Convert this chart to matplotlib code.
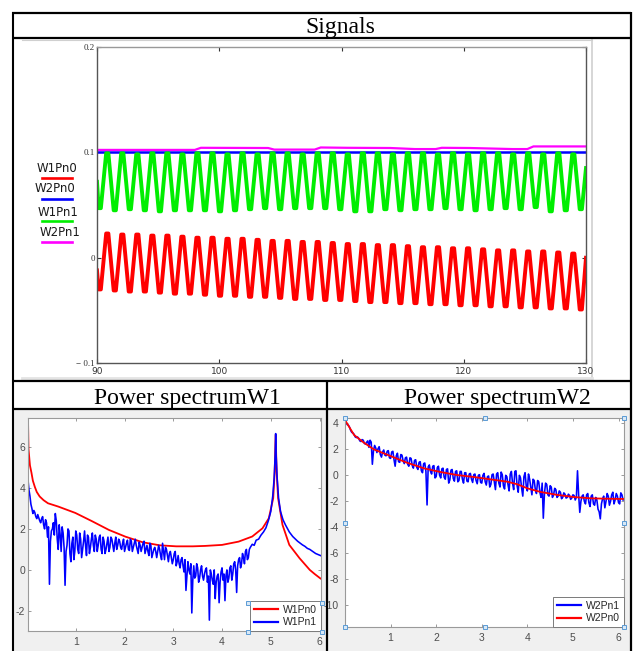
import numpy as np
import matplotlib
matplotlib.use("Agg")
import matplotlib.pyplot as plt
from matplotlib.patches import Rectangle

plt.rcParams['axes.unicode_minus'] = False

W, H = 636, 651

# ---------------- Signals (top) ----------------
sig_t0 = 90.225      # first trough time
sig_half = 0.61485   # half period read from the peaks
sig_flat = 0.09      # half width of the rounded tops seen in the picture
red_peaks = [0.023, 0.022, 0.022, 0.021, 0.021, 0.020, 0.019, 0.019, 0.018, 0.018,
             0.017, 0.016, 0.016, 0.015, 0.015, 0.014, 0.013, 0.013, 0.012, 0.012,
             0.011, 0.010, 0.010, 0.009, 0.009, 0.008, 0.007, 0.007, 0.006, 0.006,
             0.005, 0.004]
red_troughs = [-0.030, -0.031, -0.032, -0.032, -0.033, -0.034, -0.034, -0.035, -0.036,
               -0.036, -0.037, -0.037, -0.038, -0.039, -0.039, -0.040, -0.040, -0.041,
               -0.042, -0.042, -0.043, -0.043, -0.044, -0.044, -0.045, -0.045, -0.046,
               -0.046, -0.047, -0.047, -0.048, -0.048, -0.049]
green_peaks = [0.099, 0.099, 0.098, 0.099, 0.099, 0.098, 0.099, 0.099, 0.098, 0.099,
               0.098, 0.099, 0.099, 0.098, 0.099, 0.099, 0.098, 0.099, 0.099, 0.098,
               0.099, 0.099, 0.098, 0.099, 0.098, 0.099, 0.099, 0.098, 0.099, 0.098,
               0.099, 0.098]
green_troughs = [0.047, 0.045, 0.046, 0.045, 0.044, 0.045, 0.045, 0.045, 0.044, 0.045,
                 0.046, 0.047, 0.046, 0.047, 0.047, 0.047, 0.046, 0.044, 0.044, 0.046,
                 0.045, 0.046, 0.046, 0.047, 0.046, 0.045, 0.046, 0.047, 0.046, 0.048,
                 0.044, 0.045, 0.046]
red_ends = [-0.012, 0.0]
green_ends = [0.072, 0.085]
blue_t = [90, 130]
blue_v = [0.1, 0.1]
mag_t = [90, 98.0, 98.5, 104.0, 104.5, 107.8, 108.3, 110.5, 114, 116, 117.7, 118.2,
         120.5, 124, 125.2, 125.7, 130]
mag_v = [0.1022, 0.1022, 0.1042, 0.1040, 0.1025, 0.1025, 0.1045, 0.1042, 0.1040, 0.1030,
         0.1030, 0.1042, 0.1040, 0.1030, 0.1030, 0.1055, 0.1055]
sig_names = ['W1Pn0', 'W2Pn0', 'W1Pn1', 'W2Pn1']
sig_colors = ['#ff0000', '#0000ff', '#00ee00', '#ff00ff']

# ---------------- Power spectrum W1 ----------------
w1_red_f = [0.02, 0.03, 0.06, 0.09, 0.12, 0.16, 0.2, 0.26, 0.34, 0.43, 0.64, 0.99, 1.33,
            1.68, 2.02, 2.37, 2.72, 3.06, 3.4, 3.65, 4.0, 4.34, 4.62, 4.83, 4.96, 5.05,
            5.08, 5.1, 5.12, 5.15, 5.24, 5.38, 5.59, 5.8, 5.9, 6.02]
w1_red_v = [7.4, 5.9, 5.1, 4.75, 4.35, 4.05, 3.8, 3.58, 3.4, 3.25, 3.09, 2.78, 2.38,
            1.95, 1.62, 1.35, 1.2, 1.15, 1.15, 1.17, 1.22, 1.38, 1.63, 2.03, 2.52, 3.5,
            4.8, 6.6, 4.8, 3.5, 2.2, 1.22, 0.57, 0.0, -0.2, -0.42]
# noisy part, every 0.04 from 0.02 to 4.58
w1_blue_noisy = [4.4, 3.6, 3.0, 2.9, 2.6, 2.7, 2.4, 2.5, 2.2, 2.45, 1.6, -0.7, 1.9, 2.3,
                 2.75, 1.5, 2.2, 0.9, 1.8, -0.75, 1.2, 1.9, 0.4, 1.6, 0.9, 1.7, 0.8, 1.5,
                 1.0, 1.9, 0.7, 1.6, 1.1, 1.8, 0.9, 1.5, 1.2, 1.7, 0.8, 1.4, 1.0, 1.6, 1.1,
                 1.5, 0.9, 1.6, 1.2, 1.4, 1.0, 1.5, 1.1, 1.45, 0.95, 1.4, 1.1, 1.5, 1.0,
                 1.35, 0.9, 1.3, 0.8, 1.2, 0.7, 1.2, 0.8, 1.1, 0.6, 1.2, 0.7, 1.3, 0.5,
                 1.0, 0.4, 0.9, 0.3, 0.8, 0.2, 0.7, 0.1, 0.6, -0.1, -1.0, 0.4, -0.2, -2.1,
                 0.2, -0.3, 0.1, -0.4, 0.2, -0.5, 0.0, -0.6, -2.45, -0.2, -0.7, -1.4, -0.3,
                 -1.6, -0.1, -0.5, -1.5, 0.0, -0.4, 0.2, -0.2, 0.4, -1.1, 0.5, 0.1, 0.8,
                 0.3, 1.0, 0.6, 1.1]
# values between the ones above (0.04 .. 4.56)
w1_blue_mid = [3.9, 3.2, 2.75, 2.8, 2.5, 2.55, 2.3, 2.6, 2.0, 2.3, 2.1, 1.4, 2.0, 1.7,
               2.4, 1.0, 1.7, 2.1, 1.1, 0.9, 2.0, 0.8, 1.3, 0.5, 1.9, 1.0, 1.8, 0.6, 1.4,
               1.2, 1.7, 0.8, 1.5, 1.2, 1.7, 0.9, 1.6, 1.0, 1.6, 0.8, 1.3, 0.9, 1.6, 1.2,
               1.3, 1.0, 1.5, 1.1, 1.3, 0.9, 1.3, 1.0, 1.5, 0.9, 1.3, 1.2, 0.8, 1.2, 1.1,
               1.4, 1.0, 0.9, 1.3, 0.6, 1.0, 0.9, 0.9, 1.0, 0.5, 0.9, 1.1, 0.7, 0.8, 0.6,
               0.5, 0.9, 0.4, 0.3, 0.5, 0.2, 0.5, -0.3, 0.0, 0.3, -0.5, -0.4, 0.3, -0.6,
               0.0, -0.3, -0.2, 0.1, -0.3, 0.0, -0.5, 0.0, -0.6, -0.2, -0.6, 0.1, -0.2,
               -0.3, -0.6, 0.1, -0.5, 0.3, 0.0, 0.2, 0.6, 0.3, 0.6, 0.9, 0.5, 1.0]
w1_blue_tail_f = [4.62, 4.66, 4.7, 4.75, 4.8, 4.85, 4.9, 4.95, 5.0, 5.04, 5.07, 5.09, 5.1,
                  5.11, 5.13, 5.16, 5.2, 5.25, 5.3, 5.38, 5.45, 5.55, 5.65, 5.7, 5.75,
                  5.8, 5.86, 5.92, 5.97, 6.02]
w1_blue_tail_v = [1.25, 1.2, 1.45, 1.5, 1.7, 1.85, 2.05, 2.4, 2.85, 3.6, 4.5, 5.6, 6.65,
                  5.6, 4.5, 3.5, 2.85, 2.45, 2.2, 1.85, 1.63, 1.4, 1.22, 1.15, 1.05, 1.0,
                  0.9, 0.8, 0.75, 0.7]

# ---------------- Power spectrum W2 ----------------
w2_red_f = [0.0, 0.2, 0.4, 0.63, 1.0, 1.36, 1.73, 2.1, 2.46, 2.83, 3.19, 3.56, 3.78, 4.0,
            4.29, 4.66, 5.02, 5.39, 5.75, 6.1]
w2_red_v = [4.25, 3.1, 2.55, 2.0, 1.48, 0.97, 0.54, 0.25, 0.02, -0.13, -0.31, -0.49,
            -0.69, -1.0, -1.28, -1.51, -1.67, -1.77, -1.80, -1.82]
# every 0.05 from 0 to 6.1
w2_blue = [4.30, 3.90, 3.70, 3.30, 3.15, 2.90, 2.85, 2.60, 2.70, 2.40, 2.65, 2.70, 0.85,
           2.30, 1.75, 2.20, 1.40, 1.95, 1.50, 1.90, 1.30, 1.85, 0.70, 1.70, 1.00, 1.55,
           0.90, 1.40, 0.70, 1.30, 0.55, 1.20, 0.45, 1.05, 0.20, 0.95, -2.28, 0.80, 0.10,
           0.75, -0.10, 0.70, -0.20, 0.55, -0.30, 0.50, -0.35, 0.45, -0.45, 0.35, -0.40,
           0.30, -0.60, 0.20, -0.50, 0.15, -0.55, 0.10, -0.65, 0.05, -0.60, 0.15, -0.75,
           -0.05, -0.70, 0.10, -1.10, 0.20, -0.90, 0.05, -1.05, -0.10, -1.20, 0.30, -1.10,
           0.35, -1.30, -0.20, -1.60, 0.20, -1.20, -0.30, -1.50, -0.40, -1.40, -0.50,
           -1.70, -3.30, -0.60, -1.50, -0.80, -1.70, -1.00, -1.70, -1.20, -1.80, -1.35,
           -1.75, -1.45, -1.85, -1.50, -1.90, 0.35, -2.85, -1.60, -2.00, -1.50, -2.10,
           -1.60, -2.20, -1.70, -2.60, -3.35, -1.80, -2.50, -1.40, -2.30, -1.50, -2.20,
           -1.40, -2.10, -1.35, -1.90]
# values between the ones above (0.025 .. 6.075)
w2_blue_mid = [4.05, 3.85, 3.45, 3.25, 2.95, 2.95, 2.65, 2.75, 2.45, 2.55, 2.15, 2.55,
               1.90, 2.10, 2.05, 1.60, 1.80, 1.55, 1.85, 1.35, 1.80, 1.20, 1.50, 1.05,
               1.60, 1.10, 1.35, 0.85, 1.35, 0.75, 1.15, 0.60, 1.00, 0.35, 0.90, 0.30,
               0.65, 0.30, 0.70, -0.20, 0.60, 0.00, 0.50, -0.15, 0.45, -0.60, 0.40, -0.25,
               0.30, -0.50, 0.30, -0.30, 0.20, -0.45, 0.10, -0.30, 0.05, -0.40, 0.00,
               -0.55, 0.00, -0.50, -0.10, -0.90, 0.05, -0.50, 0.10, -0.60, 0.25, -0.80,
               0.00, -0.70, 0.10, -0.60, 0.30, -0.80, 0.00, -1.00, -0.10, -0.80, 0.10,
               -0.90, -0.30, -1.10, -0.40, -1.30, -0.60, -1.40, -0.70, -1.60, -0.90,
               -1.50, -1.10, -1.60, -1.30, -1.70, -1.45, -1.70, -1.55, -1.75, -1.55,
               -1.70, -1.50, -2.00, -1.50, -2.20, -1.40, -2.40, -1.50, -2.30, -1.90,
               -2.80, -2.20, -1.60, -2.00, -1.60, -2.00, -1.30, -1.90, -1.60, -2.20, -1.50]


def interleave(a, b):
    # a[0], b[0], a[1], b[1], ..., a[-1]  (len(a) == len(b) + 1)
    out = []
    for i, v in enumerate(a):
        out.append(v)
        if i < len(b):
            out.append(b[i])
    return out


def rect(l, t, r, b):
    return [l / W, 1 - b / H, (r - l) / W, (b - t) / H]


fig = plt.figure(figsize=(W / 100, H / 100), dpi=100)
fig.patch.set_facecolor('white')

# background cells
bg = fig.add_axes([0, 0, 1, 1], zorder=-5)
bg.set_xlim(0, W)
bg.set_ylim(H, 0)
bg.axis('off')
bg.add_patch(Rectangle((14, 409), 312, 242, color='#f0f0f0', lw=0))
bg.add_patch(Rectangle((327, 409), 303, 242, color='#f0f0f0', lw=0))
bg.plot([22, 592], [40, 40], color='#d0d0d0', lw=0.8)
bg.plot([592, 592], [40, 378], color='#d0d0d0', lw=1.2)
bg.plot([22, 592], [377.5, 377.5], color='#e4e4e4', lw=2)

# ---- signals plot ----
ax = fig.add_axes(rect(97, 46.7, 586, 363.3))
n_ext = len(red_troughs) + len(red_peaks)
t_ext = sig_t0 + sig_half * np.arange(n_ext)
t = np.concatenate([[90.0], (t_ext[:, None] + [-sig_flat, sig_flat]).ravel(), [130.0]])
red = [red_ends[0]] + list(np.repeat(interleave(red_troughs, red_peaks), 2)) + [red_ends[1]]
green = ([green_ends[0]] + list(np.repeat(interleave(green_troughs, green_peaks), 2))
         + [green_ends[1]])
ax.plot(t, red, color=sig_colors[0], lw=2.8, solid_joinstyle='round')
ax.plot(blue_t, blue_v, color=sig_colors[1], lw=1.8)
ax.plot(t, green, color=sig_colors[2], lw=2.8, solid_joinstyle='round')
ax.plot(mag_t, mag_v, color=sig_colors[3], lw=1.6)
ax.set_xlim(90, 130)
ax.set_ylim(-0.1, 0.2)
ax.set_xticks([90, 100, 110, 120, 130])
ax.set_yticks([-0.1, 0, 0.1, 0.2])
ax.set_yticklabels(['\u2212 0.1', '0', '0.1', '0.2'], family='Liberation Serif',
                   fontsize=6.5, color='#333333')
ax.set_xticklabels(['90', '100', '110', '120', '130'], family='DejaVu Sans',
                   fontsize=6.5, color='#333333')
ax.tick_params(direction='in', length=3, top=True, right=True, width=0.8, color='#333333')
ax.tick_params(axis='y', pad=1.5)
ax.tick_params(axis='x', pad=2.5)
for s in ax.spines.values():
    s.set_color('#555555')
    s.set_linewidth(1.0)
ax.spines['top'].set_color('#999999')

# ---- power spectrum W1 ----
a1 = fig.add_axes(rect(28, 418, 321, 631))
noisy_v = interleave(w1_blue_noisy, w1_blue_mid)
w1_blue_f = np.concatenate([np.linspace(0.02, 4.58, len(noisy_v)), w1_blue_tail_f])
w1_blue_v = np.concatenate([noisy_v, w1_blue_tail_v])
a1.plot(w1_red_f, w1_red_v, color='#ff0000', lw=1.3, label='W1Pn0')
a1.plot(w1_blue_f, w1_blue_v, color='#0000ff', lw=1.15, label='W1Pn1')
a1.set_xlim(0.02, 6.03)
a1.set_ylim(-2.98, 7.41)
a1.set_xticks([1, 2, 3, 4, 5, 6])
a1.set_yticks([-2, 0, 2, 4, 6])

# ---- power spectrum W2 ----
a2 = fig.add_axes(rect(345, 418, 624, 627))
w2_v = interleave(w2_blue, w2_blue_mid)
a2.plot(np.linspace(0.0, 6.1, len(w2_v)), w2_v, color='#0000ff', lw=1.15, label='W2Pn1')
a2.plot(w2_red_f, w2_red_v, color='#ff0000', lw=1.3, label='W2Pn0')
a2.set_xlim(0.0, 6.12)
a2.set_ylim(-11.67, 4.41)
a2.set_xticks([1, 2, 3, 4, 5, 6])
a2.set_yticks([-10, -8, -6, -4, -2, 0, 2, 4])

for a in (a1, a2):
    a.tick_params(direction='in', length=2.5, top=True, right=True, width=0.6,
                  color='#8a8a8a', labelcolor='#4d4d4d', labelsize=7.5, pad=4.5)
    for lab in a.get_xticklabels() + a.get_yticklabels():
        lab.set_family('Liberation Sans')
    for s in a.spines.values():
        s.set_color('#9a9a9a')
        s.set_linewidth(0.8)
    leg = a.legend(loc='lower right', borderaxespad=0, fancybox=False, framealpha=1,
                   edgecolor='#7a7a7a', handlelength=2.3, handletextpad=0.5,
                   borderpad=0.35, labelspacing=0.25,
                   prop={'family': 'Liberation Sans', 'size': 7.5})
    leg.get_frame().set_linewidth(0.7)
    for tx in leg.get_texts():
        tx.set_color('#262626')
    for ln in leg.get_lines():
        ln.set_linewidth(1.6)
a1.tick_params(axis='y', pad=2)

# ---- overlay: table, headers, signal legend, handles ----
ov = fig.add_axes([0, 0, 1, 1], zorder=10)
ov.set_xlim(0, W)
ov.set_ylim(H, 0)
ov.axis('off')
ov.patch.set_alpha(0)

for y in (13, 38, 381, 408.5):
    ov.plot([12, 631], [y, y], color='black', lw=1.6, solid_capstyle='butt')
ov.plot([12.5, 12.5], [12, 651], color='black', lw=1.5, solid_capstyle='butt')
ov.plot([630.5, 630.5], [12, 651], color='black', lw=1.6, solid_capstyle='butt')
ov.plot([326.5, 326.5], [381, 651], color='black', lw=1.6, solid_capstyle='butt')

hdr = dict(family='Liberation Serif', fontsize=17, ha='center', va='baseline', color='black')
ov.text(340, 32.5, 'Signals', **hdr)
ov.text(187, 404, 'Power spectrumW1', **hdr)
ov.text(497, 404, 'Power spectrumW2', **hdr)

leg_text_x = [57, 55, 58, 60]
leg_text_y = [169, 189, 212, 233]
leg_line_y = [177.7, 199, 221, 242]
for name, col, tx, ty, ly in zip(sig_names, sig_colors, leg_text_x, leg_text_y, leg_line_y):
    ov.text(tx, ty, name, family='DejaVu Sans', fontsize=8.5, ha='center', va='center',
            color='#1a1a1a')
    ov.plot([42, 72], [ly, ly], color=col, lw=1.9)

handle_x = [345, 484.5, 624, 345, 624, 345, 484.5, 624, 248.3, 321.7, 248.3, 321.7]
handle_y = [418, 418, 418, 522.5, 522.5, 627, 627, 627, 603.3, 603.3, 631.7, 631.7]
ov.plot(handle_x, handle_y, ls='none', marker='s', ms=3.2, mfc='#d8e8f6', mec='#5b9bd5',
        mew=0.7)

fig.savefig('out.png', dpi=100)
